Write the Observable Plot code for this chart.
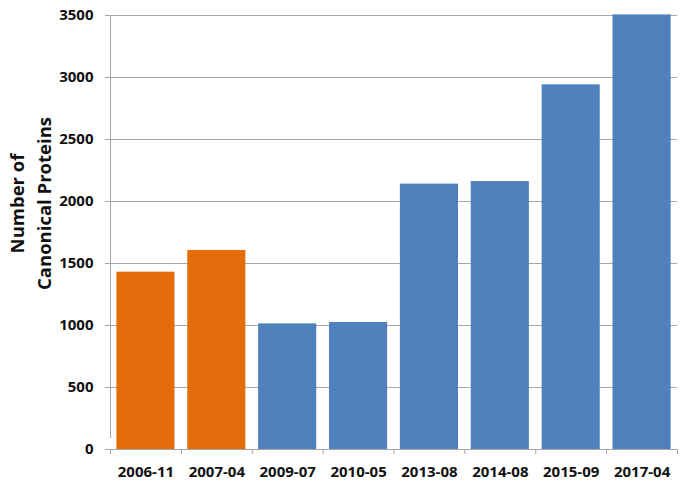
<!DOCTYPE html>
<html>
<head>
<meta charset="utf-8">
<script src="https://cdn.jsdelivr.net/npm/d3@7"></script>
<script src="https://cdn.jsdelivr.net/npm/@observablehq/plot@0.6"></script>
<style>
  html, body { margin: 0; padding: 0; background: #fff; }
</style>
</head>
<body>
<div id="chart"></div>
<script>
const categories = ["2006-11", "2007-04", "2009-07", "2010-05", "2013-08", "2014-08", "2015-09", "2017-04"];
const values = [1430, 1605, 1013, 1024, 2140, 2161, 2941, 3505];
const groups = ["early", "early", "later", "later", "later", "later", "later", "later"];
const yTicks = [0, 500, 1000, 1500, 2000, 2500, 3000, 3500];
const yTitle = "Number of\nCanonical Proteins";

const data = categories.map((c, i) => ({cat: c, value: values[i], group: groups[i]}));

const W = 682, H = 483, mL = 110, mR = 5, mT = 15, mB = 34;
const pIn = 0.18, pOut = 0.09;
const step = (W - mL - mR) / (categories.length - pIn + 2 * pOut);
const gray = "#a6a6a6";

const chart = Plot.plot({
  width: W,
  height: H,
  marginLeft: mL,
  marginRight: mR,
  marginTop: mT,
  marginBottom: mB,
  style: {fontFamily: "'Open Sans', sans-serif", fontSize: "15px", fontWeight: "bold", color: "#111", background: "#fff"},
  x: {domain: categories, paddingInner: pIn, paddingOuter: pOut, round: false, label: null},
  y: {domain: [0, 3500], label: null},
  color: {domain: ["early", "later"], range: ["#E46C0A", "#4F81BD"]},
  marks: [
    Plot.gridY(yTicks, {stroke: gray, strokeOpacity: 1}),
    Plot.barY(data, {x: "cat", y: "value", fill: "group"}),
    Plot.ruleY([0], {stroke: gray}),
    Plot.ruleX([categories[0]], {dx: -step / 2, y1: 0, y2: 3500, insetTop: -11, stroke: gray}),
    Plot.axisY(yTicks, {tickSize: 5, tickPadding: 12, stroke: gray, fill: "#111", tickFormat: d3.format("d"), label: null}),
    Plot.axisX({tickSize: 0, tickPadding: 17, fill: "#111", label: null}),
    Plot.axisX(categories, {tickSize: 5, dx: -step / 2, stroke: gray, tickFormat: () => "", label: null}),
    Plot.axisX([categories[categories.length - 1]], {tickSize: 5, dx: step / 2, stroke: gray, tickFormat: () => "", label: null}),
    Plot.text([yTitle], {frameAnchor: "left", rotate: -90, dx: -82, dy: -29, textAnchor: "middle", fontSize: 18.5, fontWeight: "bold", fill: "#111", lineHeight: 1.46})
  ]
});

document.getElementById("chart").appendChild(chart);
</script>
</body>
</html>
